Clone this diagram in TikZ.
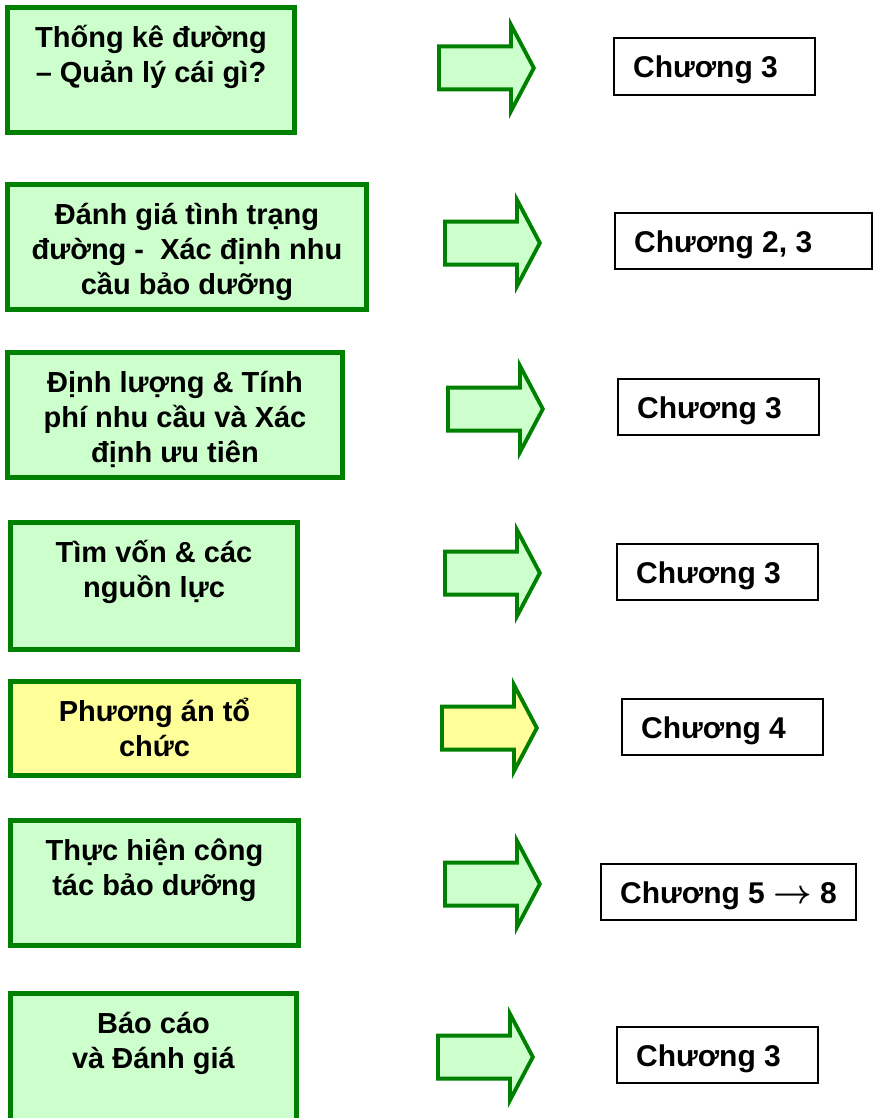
\documentclass[tikz,border=0pt]{standalone}
\usepackage{fontspec}
\setmainfont{Liberation Sans}
\definecolor{bgreen}{RGB}{0,128,0}
\definecolor{lgreen}{RGB}{204,255,204}
\definecolor{lyellow}{RGB}{255,255,153}
\tikzset{
  lbox/.style={draw=bgreen, line width=5pt, inner sep=0pt},
  ltext/.style={anchor=base, align=center, inner sep=0pt, font=\bfseries\fontsize{29}{35}\selectfont},
  rbox/.style={draw=black, line width=2pt, fill=white, inner sep=0pt},
  rtext/.style={anchor=base west, inner sep=0pt, font=\bfseries\fontsize{30}{36}\selectfont}
}
\begin{document}
\begin{tikzpicture}[x=1pt,y=-1pt]
\useasboundingbox (0,0) rectangle (876,1118);
% left boxes
\node[lbox, fill=lgreen, minimum width=287, minimum height=125] (b1) at (151,70) {};
\node[lbox, fill=lgreen, minimum width=359, minimum height=125] (b2) at (187,247) {};
\node[lbox, fill=lgreen, minimum width=335, minimum height=125] (b3) at (175,415) {};
\node[lbox, fill=lgreen, minimum width=287, minimum height=127] (b4) at (154,586) {};
\node[lbox, fill=lyellow, minimum width=288, minimum height=94] (b5) at (154.5,728.5) {};
\node[lbox, fill=lgreen, minimum width=288, minimum height=125] (b6) at (154.5,883) {};
\node[lbox, fill=lgreen, minimum width=286, minimum height=129] (b7) at (153.5,1058) {};
\node[ltext] (t1) at ([yshift=-77.5pt]b1.north) {Thống kê đường\\– Quản lý cái gì?};
\node[ltext] (t2) at ([yshift=-112.5pt]b2.north) {Đánh giá tình trạng\\đường -\ \ Xác định nhu\\cầu bảo dưỡng};
\node[ltext] (t3) at ([yshift=-112.5pt]b3.north) {Định lượng \& Tính\\phí nhu cầu và Xác\\định ưu tiên};
\node[ltext] (t4) at ([yshift=-77.5pt]b4.north) {Tìm vốn \& các\\nguồn lực};
\node[ltext] (t5) at ([yshift=-77.5pt]b5.north) {Phương án tổ\\chức};
\node[ltext] (t6) at ([yshift=-77.5pt]b6.north) {Thực hiện công\\tác bảo dưỡng};
\node[ltext] (t7) at ([yshift=-77.5pt]b7.north) {Báo cáo\\và Đánh giá};
% block arrows
\coordinate (a1) at (437,68);
\coordinate (a2) at (443,243);
\coordinate (a3) at (446,409);
\coordinate (a4) at (443,573);
\coordinate (a5) at (440,728);
\coordinate (a6) at (443,884);
\coordinate (a7) at (436,1057);
\foreach \a/\f in {a1/lgreen,a2/lgreen,a3/lgreen,a4/lgreen,a5/lyellow,a6/lgreen,a7/lgreen}{
  \fill[bgreen] (\a) ++(0,-23.5) -- ++(72,0) -- ++(0,-27.5) -- ++(27,51) -- ++(-27,51) -- ++(0,-27.5) -- ++(-72,0) -- cycle;
  \fill[\f] (\a) ++(4,-19.5) -- ++(72,0) -- ++(0,-15.4) -- ++(18.5,34.9) -- ++(-18.5,34.9) -- ++(0,-15.4) -- ++(-72,0) -- cycle;
}
% right boxes
\node[rbox, minimum width=201, minimum height=57] (r1) at (714.5,66.5) {};
\node[rbox, minimum width=257, minimum height=56] (r2) at (743.5,241) {};
\node[rbox, minimum width=201, minimum height=56] (r3) at (718.5,407) {};
\node[rbox, minimum width=201, minimum height=56] (r4) at (717.5,572) {};
\node[rbox, minimum width=201, minimum height=56] (r5) at (722.5,727) {};
\node[rbox, minimum width=255, minimum height=56] (r6) at (728.5,892) {};
\node[rbox, minimum width=201, minimum height=56] (r7) at (717.5,1055) {};
\node[rtext] (c1) at ([xshift=20pt,yshift=-11.5pt]r1.west) {Chương 3};
\node[rtext] (c2) at ([xshift=20pt,yshift=-11.5pt]r2.west) {Chương 2, 3};
\node[rtext] (c3) at ([xshift=20pt,yshift=-11.5pt]r3.west) {Chương 3};
\node[rtext] (c4) at ([xshift=20pt,yshift=-11.5pt]r4.west) {Chương 3};
\node[rtext] (c5) at ([xshift=20pt,yshift=-11.5pt]r5.west) {Chương 4};
\node[rtext] (c6) at ([xshift=20pt,yshift=-11.5pt]r6.west) {Chương 5 \scalebox{1.35}{\boldmath$\rightarrow$} 8};
\node[rtext] (c7) at ([xshift=20pt,yshift=-11.5pt]r7.west) {Chương 3};
\end{tikzpicture}
\end{document}
